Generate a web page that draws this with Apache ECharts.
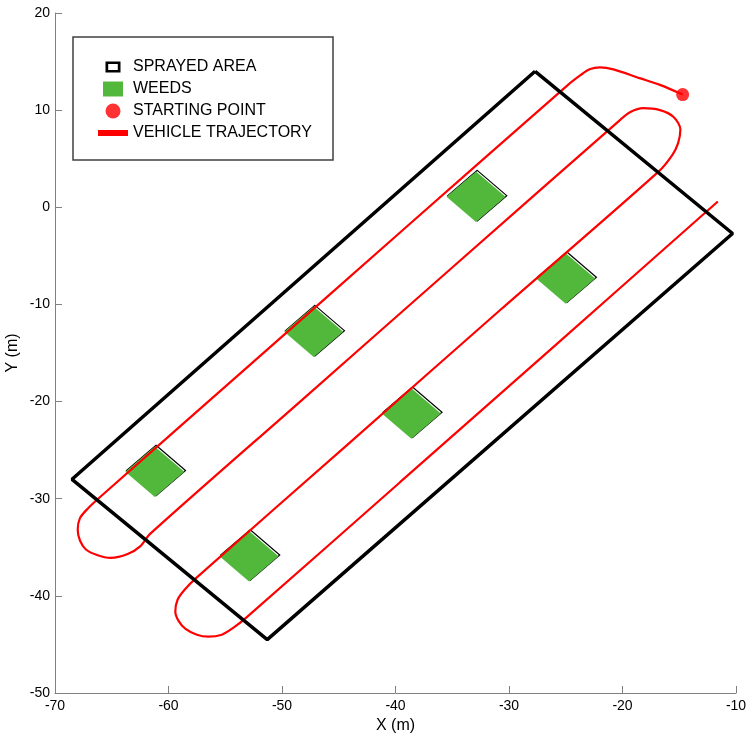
<!DOCTYPE html>
<html>
<head>
<meta charset="utf-8">
<script src="https://cdn.jsdelivr.net/npm/echarts@6/dist/echarts.min.js"></script>
<style>
  html, body { margin: 0; padding: 0; background: #fff; }
  #chart { width: 747px; height: 736px; }
</style>
</head>
<body>
<div id="chart"></div>
<script>
// outline of the sprayed field (closed)
const sprayedArea = [[-27.7, 14.0], [-10.3, -2.7], [-51.3, -44.5], [-68.5, -28.0], [-27.7, 14.0]]

// weed patch centres
const weedCenters = [[-32.8, 1.2], [-24.9, -7.2], [-47.1, -12.7], [-38.5, -21.1], [-61.1, -27.1], [-52.8, -35.8]]
const weedHalfSize = 2.6

const startPoint = [-14.7, 11.6]

// vehicle path, from the starting point
const trajectory = [
  [-14.7, 11.6], [-16.7, 12.6], [-18.5, 13.3], [-20.8, 14.2], [-22.0, 14.4], [-22.9, 14.2],
  [-23.7, 13.6], [-24.8, 12.6], [-39.6, -2.6], [-52.8, -16.2], [-66.0, -29.8],
  [-67.1, -31.0], [-67.8, -32.0], [-68.0, -33.2], [-67.8, -34.3], [-67.3, -35.2],
  [-66.3, -35.8], [-65.1, -36.1], [-63.6, -35.7], [-62.5, -34.9], [-61.6, -33.6],
  [-48.4, -20.0], [-35.2, -6.4], [-20.2, 9.0],
  [-19.3, 9.8], [-18.2, 10.2], [-16.7, 10.0], [-15.5, 9.3], [-14.9, 8.0], [-15.1, 6.6],
  [-15.6, 5.4], [-16.8, 3.7], [-30.8, -10.6], [-44.0, -24.2], [-57.6, -38.2],
  [-58.6, -39.4], [-59.2, -40.4], [-59.4, -41.6], [-59.1, -42.6], [-58.5, -43.4],
  [-57.5, -44.0], [-56.5, -44.2], [-55.3, -44.0], [-54.3, -43.3], [-53.2, -42.3],
  [-39.6, -28.3], [-26.4, -14.7], [-11.6, 0.6]
]

const legendNames = ['SPRAYED AREA', 'WEEDS', 'STARTING POINT', 'VEHICLE TRAJECTORY']

const chart = echarts.init(document.getElementById('chart'))

const axisCommon = {
  type: 'value',
  interval: 10,
  splitLine: { show: false },
  axisLine: { onZero: false, lineStyle: { color: '#808080', width: 1 } },
  axisTick: { inside: true, length: 7, lineStyle: { color: '#808080' } },
  axisLabel: { color: '#000', fontSize: 14, fontFamily: 'Arial' },
  nameLocation: 'middle',
  nameMoveOverlap: false,
  nameTextStyle: { color: '#000', fontSize: 16, fontFamily: 'Arial' }
}

// legend icons drawn in a 30x15 box (the first two moves only fix the box)
const iconSprayed = 'path://M0,0M30,15M7.5,2H22.5V13H7.5ZM10.2,4.6V10.4H19.8V4.6Z'
const iconWeeds = 'path://M0,0M30,15M5,0H25V15H5Z'
const iconPath = 'path://M0,0M30,15M0,4.5H30V10.5H0Z'

function renderWeed(params, api) {
  const cx = api.value(0)
  const cy = api.value(1)
  const h = weedHalfSize
  const pts = [[cx, cy + h], [cx + h, cy], [cx, cy - h], [cx - h, cy]].map(p => api.coord(p))
  const inner = pts.map(p => [p[0] - 1.2, p[1] + 1.2])
  return {
    type: 'group',
    children: [
      { type: 'polygon', shape: { points: pts }, style: { fill: '#fff', stroke: '#000', lineWidth: 1.2 } },
      { type: 'polygon', shape: { points: inner }, style: { fill: '#52b83c', stroke: null } }
    ]
  }
}

chart.setOption({
  animation: false,
  grid: { left: 55, right: 11, top: 13, bottom: 43, outerBoundsMode: 'none', containLabel: false },
  xAxis: Object.assign({}, axisCommon, {
    min: -70, max: -10, name: 'X (m)', nameGap: 25,
    axisLabel: Object.assign({}, axisCommon.axisLabel, { margin: 6 })
  }),
  yAxis: Object.assign({}, axisCommon, {
    min: -50, max: 20, name: 'Y (m)', nameGap: 34,
    axisLabel: Object.assign({}, axisCommon.axisLabel, { margin: 5 })
  }),
  legend: {
    orient: 'vertical',
    left: 73,
    top: 37,
    padding: [22, 21, 19, 25],
    itemGap: 6,
    itemWidth: 30,
    itemHeight: 15,
    borderColor: '#404040',
    borderWidth: 1.5,
    backgroundColor: '#fff',
    textStyle: { color: '#000', fontSize: 16, fontFamily: 'Arial' },
    data: [
      { name: legendNames[0], icon: iconSprayed, itemStyle: { color: '#000' } },
      { name: legendNames[1], icon: iconWeeds, itemStyle: { color: '#52b83c' } },
      { name: legendNames[2], icon: 'circle', itemStyle: { color: '#ff0000' } },
      { name: legendNames[3], icon: iconPath, itemStyle: { color: '#ff0000' } }
    ]
  },
  series: [
    {
      name: legendNames[1],
      type: 'custom',
      z: 2,
      itemStyle: { color: '#52b83c' },
      renderItem: renderWeed,
      data: weedCenters
    },
    {
      name: legendNames[3],
      type: 'line',
      z: 3,
      symbol: 'none',
      smooth: 0.3,
      lineStyle: { color: '#ff0000', width: 2.2 },
      itemStyle: { color: '#ff0000' },
      data: trajectory
    },
    {
      name: legendNames[0],
      type: 'line',
      z: 4,
      symbol: 'none',
      lineStyle: { color: '#000', width: 3.5 },
      itemStyle: { color: '#000' },
      data: sprayedArea
    },
    {
      name: legendNames[2],
      type: 'scatter',
      z: 5,
      symbolSize: 13,
      itemStyle: { color: '#ff0000' },
      data: [startPoint]
    }
  ]
})
</script>
</body>
</html>
